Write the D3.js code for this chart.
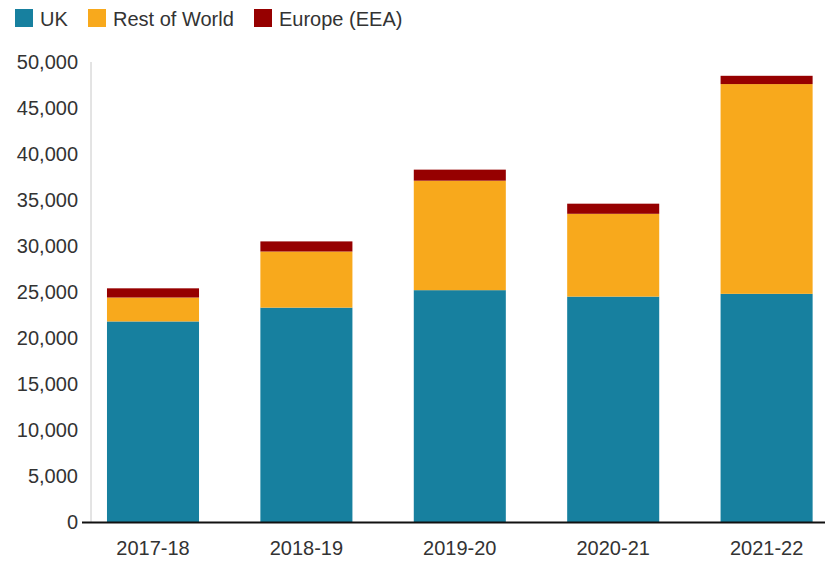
<!DOCTYPE html>
<html><head><meta charset="utf-8">
<script src="https://cdn.jsdelivr.net/npm/d3@7"></script>
<style>body{margin:0;background:#fff}svg{display:block}</style>
</head><body>
<svg id="c" width="825" height="561"></svg>
<script>
const categories = ["2017-18","2018-19","2019-20","2020-21","2021-22"];
const seriesNames = ["UK","Rest of World","Europe (EEA)"];
const ukValues = [21800, 23300, 25200, 24500, 24800];
const restOfWorldValues = [2600, 6100, 11900, 9000, 22800];
const europeValues = [1000, 1100, 1200, 1100, 900];
const yTicks = [0,5000,10000,15000,20000,25000,30000,35000,40000,45000,50000];
const colors = ["#17809f", "#f8a91c", "#960000"];

const svg = d3.select("#c");
const font = "Liberation Sans, Arial, sans-serif";
const textColor = "#333";
const fs = 20;

const y = d3.scaleLinear().domain([0, 50000]).range([522, 62]);
const x = d3.scaleBand().domain(categories).range([76.3, 843.3]).paddingInner(0.4).paddingOuter(0.2);

const rows = categories.map((c,i)=>({cat:c, "UK":ukValues[i], "Rest of World":restOfWorldValues[i], "Europe (EEA)":europeValues[i]}));
const stack = d3.stack().keys(seriesNames)(rows);

// y axis line
svg.append("line").attr("x1",91).attr("x2",91).attr("y1",y(50000)).attr("y2",y(0))
  .attr("stroke","#c8c8c8").attr("stroke-width",1);

// bars
svg.append("g").selectAll("g").data(stack).join("g")
  .attr("fill",(d,i)=>colors[i])
  .selectAll("rect").data(d=>d).join("rect")
  .attr("x",d=>x(d.data.cat))
  .attr("width",x.bandwidth())
  .attr("y",d=>y(d[1]))
  .attr("height",d=>y(d[0])-y(d[1]));

// y tick labels via axis
const yAxis = d3.axisLeft(y).tickValues(yTicks).tickSize(0).tickPadding(0).tickFormat(d3.format(","));
const gy = svg.append("g").attr("transform","translate(78,0)").call(yAxis);
gy.select(".domain").remove();
gy.selectAll("text").attr("font-family",font).attr("font-size",fs).attr("fill",textColor);

// x axis
const xAxis = d3.axisBottom(x).tickSize(0).tickPadding(0);
const gx = svg.append("g").attr("transform","translate(0,541)").call(xAxis);
gx.select(".domain").remove();
gx.selectAll("text").attr("font-family",font).attr("font-size",fs).attr("fill",textColor);

// baseline
svg.append("line").attr("x1",82).attr("x2",825).attr("y1",y(0)+0.5).attr("y2",y(0)+0.5)
  .attr("stroke","#111").attr("stroke-width",2);

// legend
const legendX = [15, 88, 254];
const lg = svg.append("g").selectAll("g").data(seriesNames).join("g")
  .attr("transform",(d,i)=>`translate(${legendX[i]},9)`);
lg.append("rect").attr("width",18).attr("height",18).attr("fill",(d,i)=>colors[i]);
lg.append("text").attr("x",25).attr("y",16.5).text(d=>d)
  .attr("font-family",font).attr("font-size",fs).attr("fill",textColor);
</script>
</body></html>
